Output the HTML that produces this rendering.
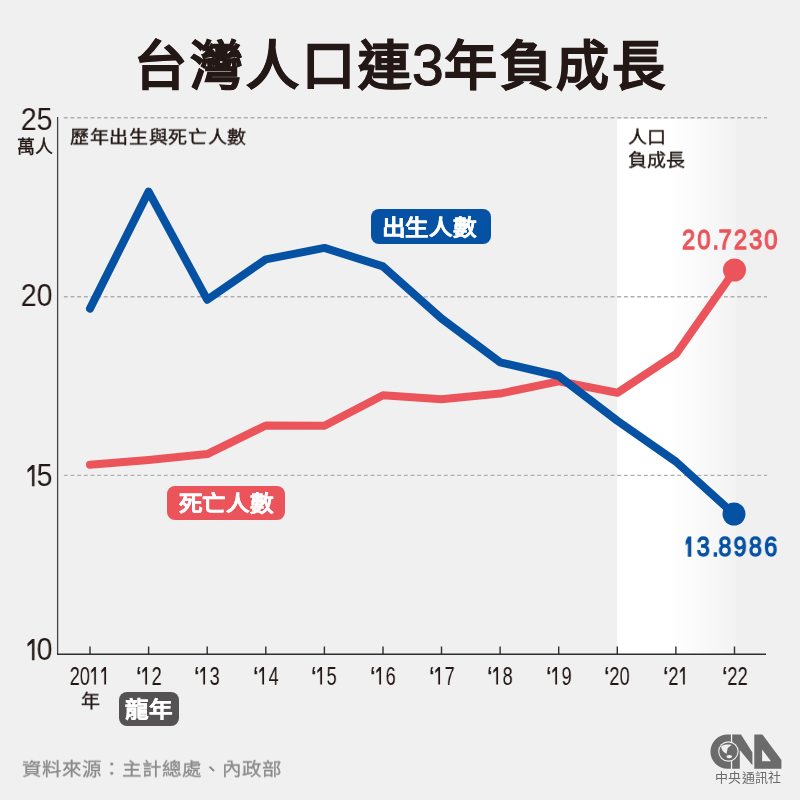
<!DOCTYPE html>
<html lang="zh-TW">
<head>
<meta charset="utf-8">
<style>
html,body{margin:0;padding:0;}
body{width:800px;height:800px;background:#f0f0f0;position:relative;overflow:hidden;font-family:"Liberation Sans",sans-serif;color:#231815;}
.a{position:absolute;white-space:nowrap;line-height:1;will-change:transform;}
#title{left:133.5px;top:39.5px;font-size:53px;font-weight:bold;-webkit-text-stroke:0.7px #231815;color:#231815;letter-spacing:3px;}
#sub{left:70px;top:128.3px;-webkit-text-stroke:0.4px #231815;font-size:19px;letter-spacing:0.65px;transform:scaleY(0.92);transform-origin:0 50%;color:#231815;}
#neg{left:628px;top:126px;-webkit-text-stroke:0.4px #231815;font-size:19px;line-height:25px;transform:scaleY(0.92);transform-origin:0 0;color:#231815;}
.yl{font-size:31px;color:#231815;transform-origin:100% 0;transform:scaleX(0.92);}
.xl{font-size:25.5px;color:#231815;transform-origin:50% 0;transform:scaleX(0.72);}
.tag{position:absolute;border-radius:8px;color:#fff;font-weight:bold;text-align:center;will-change:transform;-webkit-text-stroke:0.35px #fff;}
#src{left:22px;top:759.5px;font-size:19.5px;-webkit-text-stroke:0.3px #8a8a8a;transform:scaleY(0.93);transform-origin:0 50%;color:#8a8a8a;}
.one{display:inline-block;width:0.556em;height:0.688em;overflow:visible;vertical-align:baseline;fill:currentColor;}
.q{font-weight:bold;}
.tt{display:inline-block;transform:scale(1.025,0.935);}
.val{font-size:28px;font-weight:normal;-webkit-text-stroke:1.3px currentColor;letter-spacing:2.6px;transform-origin:0 0;transform:scaleX(0.84);}
</style>
</head>
<body>
<div class="a" id="title">台灣人口連<span style="line-height:1px;letter-spacing:0px;font-size:57px;font-weight:normal;-webkit-text-stroke:1.1px #231815;margin-left:-2px">3</span>年負成長</div>

<svg class="a" style="left:0;top:0" width="800" height="800" viewBox="0 0 800 800">
  <defs>
    <linearGradient id="wg" x1="0" x2="1" y1="0" y2="0">
      <stop offset="0" stop-color="#ffffff"/>
      <stop offset="0.44" stop-color="#ffffff"/>
      <stop offset="1" stop-color="#f3f3f3"/>
    </linearGradient>
  </defs>
  <rect x="617" y="119" width="119" height="535" fill="url(#wg)"/>
  <g stroke="#afafaf" stroke-width="1.4" stroke-dasharray="3.9 2.767" fill="none">
    <line x1="63.87" y1="117.8" x2="767" y2="117.8"/>
    <line x1="63.87" y1="296.7" x2="767" y2="296.7"/>
    <line x1="63.87" y1="475.4" x2="767" y2="475.4"/>
  </g>
  <g stroke="#2e2e2e" stroke-width="1.4" fill="none">
    <line x1="57.6" y1="117" x2="57.6" y2="654.8" stroke="#404040" stroke-width="1.25"/>
    <line x1="57" y1="654.3" x2="766" y2="654.3"/>
    <path d="M90 654V646.5M148.6 654V646.5M207.2 654V646.5M265.8 654V646.5M324.4 654V646.5M383 654V646.5M441.5 654V646.5M500.1 654V646.5M558.7 654V646.5M617.3 654V646.5M675.9 654V646.5M734.5 654V646.5" stroke-width="1.4"/>
  </g>
  <polyline fill="none" stroke="#eb545b" stroke-width="8" stroke-linejoin="round" stroke-linecap="round"
    points="90.0,464.8 148.6,460.1 207.2,454.1 265.8,425.5 324.4,425.7 383.0,395.2 441.5,399.3 500.1,393.6 558.7,381.3 617.3,392.8 675.9,354.2 734.5,270.7"/>
  <circle cx="734.5" cy="270" r="11.5" fill="#eb545b"/>
  <polyline fill="none" stroke="#0551a3" stroke-width="8" stroke-linejoin="round" stroke-linecap="round"
    points="90.0,308.6 148.6,191.6 207.2,299.7 265.8,259.4 324.4,247.9 383.0,266.4 441.5,318.5 500.1,362.3 558.7,376.0 617.3,420.8 675.9,461.6 734.5,514.6"/>
  <circle cx="734" cy="514" r="11.5" fill="#0551a3"/>
  <!-- CNA logo -->
  <g fill="#6b6b6b">
    <path d="M730.9 734.5H727.6A17.15 17.15 0 0 0 727.6 768.8H730.9Z"/>
    <path d="M732.2 734.5H741L752.4 752.4V765.3L739.8 750V768.8H732.2Z"/>
    <path d="M754.3 734.5H762.4L781.4 760V768.8H754.3ZM762.1 749.6V761.3H771Z" fill-rule="evenodd"/>
  </g>
  <circle cx="728.4" cy="751.5" r="10.2" fill="#f0f0f0"/>
  <circle cx="728.4" cy="751.5" r="9.1" fill="#6b6b6b"/>
  <path d="M721.3 746.3C723.2 744.6 728 744.1 731.6 744.9L727.7 748L726.5 754C724.2 752.6 721.9 750.6 721.3 748Z" fill="#f0f0f0"/>
  <ellipse cx="729.3" cy="756.6" rx="2.9" ry="1.6" fill="#f0f0f0"/>
</svg>

<div class="a" id="sub">歷年出生與死亡人數</div>
<div class="a" id="neg">人口<br>負成長</div>

<div class="a yl" style="right:747.5px;top:104px;">25</div>
<div class="a" style="right:747.5px;top:138px;font-size:18px;-webkit-text-stroke:0.35px #231815;">萬人</div>
<div class="a yl" style="right:747.5px;top:280px;">20</div>
<div class="a yl" style="right:747.5px;top:460px;"><svg class="one" viewBox="0 0 556 688"><path d="M393 0H476V688H393V128L238 248V146Z"/></svg>5</div>
<div class="a yl" style="right:747.5px;top:634px;"><svg class="one" viewBox="0 0 556 688"><path d="M393 0H476V688H393V128L238 248V146Z"/></svg>0</div>

<div class="a xl" style="left:60px;width:60px;text-align:center;top:664px;">20<svg class="one" viewBox="0 0 556 688"><path d="M228 0H318V688H228V125L60 250V150Z"/></svg><svg class="one" viewBox="0 0 556 688"><path d="M228 0H318V688H228V125L60 250V150Z"/></svg></div>
<div class="a" style="left:80.5px;top:692px;font-size:19px;-webkit-text-stroke:0.35px #231815;transform:scaleY(0.95);">年</div>
<div class="a xl" style="left:118.6px;width:60px;text-align:center;top:664px;"><b class="q">‘</b><svg class="one" viewBox="0 0 556 688"><path d="M228 0H318V688H228V125L60 250V150Z"/></svg>2</div>
<div class="a xl" style="left:177.2px;width:60px;text-align:center;top:664px;"><b class="q">‘</b><svg class="one" viewBox="0 0 556 688"><path d="M228 0H318V688H228V125L60 250V150Z"/></svg>3</div>
<div class="a xl" style="left:235.8px;width:60px;text-align:center;top:664px;"><b class="q">‘</b><svg class="one" viewBox="0 0 556 688"><path d="M228 0H318V688H228V125L60 250V150Z"/></svg>4</div>
<div class="a xl" style="left:294.4px;width:60px;text-align:center;top:664px;"><b class="q">‘</b><svg class="one" viewBox="0 0 556 688"><path d="M228 0H318V688H228V125L60 250V150Z"/></svg>5</div>
<div class="a xl" style="left:353px;width:60px;text-align:center;top:664px;"><b class="q">‘</b><svg class="one" viewBox="0 0 556 688"><path d="M228 0H318V688H228V125L60 250V150Z"/></svg>6</div>
<div class="a xl" style="left:411.5px;width:60px;text-align:center;top:664px;"><b class="q">‘</b><svg class="one" viewBox="0 0 556 688"><path d="M228 0H318V688H228V125L60 250V150Z"/></svg>7</div>
<div class="a xl" style="left:470.1px;width:60px;text-align:center;top:664px;"><b class="q">‘</b><svg class="one" viewBox="0 0 556 688"><path d="M228 0H318V688H228V125L60 250V150Z"/></svg>8</div>
<div class="a xl" style="left:528.7px;width:60px;text-align:center;top:664px;"><b class="q">‘</b><svg class="one" viewBox="0 0 556 688"><path d="M228 0H318V688H228V125L60 250V150Z"/></svg>9</div>
<div class="a xl" style="left:587.3px;width:60px;text-align:center;top:664px;"><b class="q">‘</b>20</div>
<div class="a xl" style="left:645.9px;width:60px;text-align:center;top:664px;"><b class="q">‘</b>2<svg class="one" viewBox="0 0 556 688"><path d="M228 0H318V688H228V125L60 250V150Z"/></svg></div>
<div class="a xl" style="left:704.5px;width:60px;text-align:center;top:664px;"><b class="q">‘</b>22</div>

<div class="tag" style="left:371px;top:209px;width:120px;height:35px;background:#0551a3;font-size:23px;line-height:35px;"><span class="tt" style="position:relative;left:-1.7px;top:0.7px">出生人數</span></div>
<div class="tag" style="left:167px;top:486px;width:118px;height:34px;background:#eb545b;font-size:23px;line-height:34px;"><span class="tt" style="position:relative;left:-0.3px;top:0.5px">死亡人數</span></div>
<div class="tag" style="left:119px;top:692px;width:60px;height:34px;background:#545253;font-size:23px;line-height:34px;"><span class="tt" style="position:relative;left:0.2px;top:1px">龍年</span></div>

<div class="a val" style="left:682px;top:226px;color:#eb545b;">20<span style="letter-spacing:-0.6px">.</span>7230</div>
<div class="a val" style="left:685px;top:533px;color:#0551a3;"><svg class="one b" style="margin-right:-1.5px" viewBox="0 0 556 688"><path d="M120 -20H262V702H120V225L25 300V140Z"/></svg>3<span style="letter-spacing:-0.4px">.</span>8986</div>

<div class="a" id="src">資料來源：主計總處、內政部</div>
<div class="a" style="left:715px;top:771px;font-size:13px;color:#6b6b6b;letter-spacing:0.3px;">中央通訊社</div>
</body>
</html>
